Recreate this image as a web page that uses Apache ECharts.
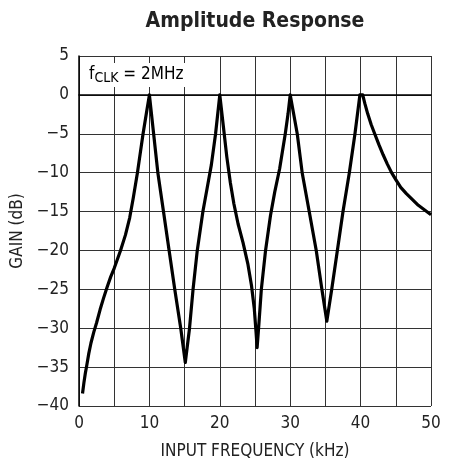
<!DOCTYPE html>
<html>
<head>
<meta charset="utf-8">
<script src="https://cdn.jsdelivr.net/npm/echarts@6/dist/echarts.min.js"></script>
<style>
html,body{margin:0;padding:0;background:#fff;}
#c{width:452px;height:465px;}
</style>
</head>
<body>
<div id="c"></div>
<script>
var freq = [0.5,0.7,0.9,1.1,1.4,1.7,2.1,2.5,3.0,3.5,4.0,4.5,5.0,5.9,6.6,7.2,7.7,8.3,9.1,9.6,10.0,
  10.6,11.2,12.0,12.8,13.6,14.45,15.1,
  15.7,16.2,16.8,17.6,18.2,18.8,19.4,20.0,
  20.5,21.0,21.5,22.0,22.6,23.3,24.0,24.5,24.9,25.15,25.3,
  25.55,25.9,26.5,27.2,27.8,28.5,29.3,29.7,30.0,
  30.5,31.0,31.7,32.7,33.7,34.5,35.2,
  35.9,36.7,37.5,38.4,39.2,39.9,40.3,40.6,41.0,41.5,42.0,42.6,43.2,43.8,44.4,45.0,45.7,46.5,47.3,48.2,49.1,50.0];
var gain = [-38.4,-37.0,-35.8,-34.8,-33.2,-31.9,-30.5,-29.3,-27.6,-26.1,-24.7,-23.4,-22.3,-20.0,-18.0,-15.8,-13.3,-10.0,-5.0,-2.2,0,
  -5,-10,-15,-20,-25,-30,-34.4,
  -30,-25,-20,-15,-12,-9,-5,0,
  -4,-8,-11.3,-14,-16.6,-19,-21.8,-24.5,-27.5,-30.5,-32.5,
  -29.5,-25,-20,-15.5,-12.5,-9.5,-5,-2.4,0,
  -2.5,-5,-10,-15,-20,-25,-29.1,
  -25,-20,-15,-10,-5,0,0,-1.1,-2.4,-3.8,-5.0,-6.4,-7.7,-8.9,-10.0,-10.9,-11.9,-12.7,-13.4,-14.2,-14.8,-15.4];
var xTicks = [0,10,20,30,40,50];
var yTicks = [-40,-35,-30,-25,-20,-15,-10,-5,0,5];

var FONT = '"Liberation Sans Narrow","DejaVu Sans Condensed","Liberation Sans",sans-serif';
var pts = freq.map(function(f,i){return [f,gain[i]];});
var chart = echarts.init(document.getElementById('c'));
chart.setOption({
  animation:false,
  backgroundColor:'#fff',
  title:{
    text:'Amplitude Response',
    left:250, top:6, textAlign:'center',
    textStyle:{fontFamily:FONT,fontWeight:'bold',fontSize:21,color:'#222'}
  },
  grid:{left:79,right:21,top:56,bottom:58},
  xAxis:{
    type:'value',min:0,max:50,interval:5,
    name:'INPUT FREQUENCY (kHz)',nameLocation:'middle',nameGap:37,
    nameTextStyle:{fontFamily:FONT,fontSize:17,color:'#222'},
    axisLine:{show:true,lineStyle:{color:'#000',width:1.5}},
    axisTick:{show:false},
    axisLabel:{margin:9,fontFamily:FONT,fontSize:17,color:'#222',
      formatter:function(v){return xTicks.indexOf(v)>=0?String(v):'';}},
    splitLine:{show:true,lineStyle:{color:'#333',width:1}}
  },
  yAxis:{
    type:'value',min:-40,max:5,interval:5,
    name:'GAIN (dB)',nameLocation:'middle',nameGap:52,
    nameTextStyle:{fontFamily:FONT,fontSize:17,color:'#222'},
    axisLine:{show:true,lineStyle:{color:'#000',width:1.5}},
    axisTick:{show:false},
    axisLabel:{margin:10,fontFamily:FONT,fontSize:17,color:'#222',
      formatter:function(v){return yTicks.indexOf(v)>=0?String(v).replace('-','\u2212'):'';}},
    splitLine:{show:true,lineStyle:{color:'#333',width:1}}
  },
  graphic:[
    {type:'text',left:86,top:63,z:100,
      style:{
        text:'{a|f}{b|CLK}{a| = 2MHz}',
        backgroundColor:'#fff',padding:[1,3,1,3],
        rich:{
          a:{fontFamily:FONT,fontSize:17,color:'#222',lineHeight:22},
          b:{fontFamily:FONT,fontSize:14,color:'#222',lineHeight:22,padding:[7,0,0,0]}
        }
      }}
  ],
  series:[{
    type:'line',data:pts,showSymbol:false,smooth:false,
    lineStyle:{color:'#000',width:3.2,join:'round'},
    clip:true
  }]
});
</script>
</body>
</html>
